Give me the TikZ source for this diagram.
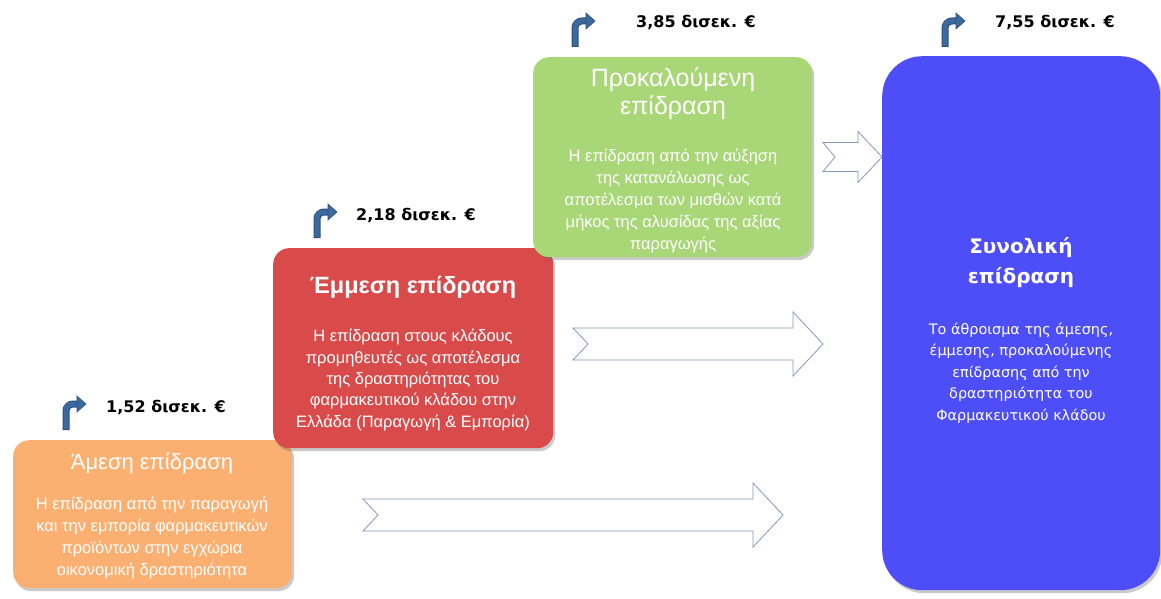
\documentclass[tikz,border=0pt]{standalone}
\usepackage{fontspec}
\setmainfont{Liberation Sans}
\newfontfamily\verd{DejaVu Sans}
\usetikzlibrary{shadows}
\definecolor{orangebox}{HTML}{FBB072}
\definecolor{redbox}{HTML}{D94B4B}
\definecolor{greenbox}{HTML}{A9D677}
\definecolor{bluebox}{HTML}{4E4EF8}
\definecolor{iconblue}{HTML}{3D6A9E}
\definecolor{iconedge}{HTML}{2C4F7C}
\definecolor{arrowedge}{HTML}{8498BA}
\tikzset{
  box/.style={rounded corners=16pt, draw=none, drop shadow={shadow xshift=2pt, shadow yshift=-3pt, opacity=0.35, fill=black!60}},
  ttl/.style={text=white, align=center, inner sep=0pt, font=\fontsize{22}{28}\selectfont},
  bdy/.style={text=white, align=center, inner sep=0pt, font=\fontsize{16.5}{22}\selectfont},
  val/.style={anchor=west, inner sep=0pt, font=\verd\bfseries\fontsize{16}{18}\selectfont, text=black},
  blockarrow/.style={draw=arrowedge, fill=white, line width=0.8pt, line join=miter},
}
% #1 tail x, #2 tip x, #3 center y, #4 shaft half, #5 head half, #6 head length, #7 notch
\newcommand\myblockarrow[7]{%
  \draw[blockarrow] (#1,#3-#4) -- (#2-#6,#3-#4) -- (#2-#6,#3-#5) -- (#2,#3) -- (#2-#6,#3+#5) -- (#2-#6,#3+#4) -- (#1,#3+#4) -- (#1+#7,#3) -- cycle;}
% #1 stem x, #2 stem bottom y
\newcommand\turnicon[2]{%
  \draw[iconedge, line width=7pt, rounded corners=7pt] (#1,#2) -- (#1,#2-26) -- (#1+12,#2-26);
  \draw[iconblue, line width=5pt, rounded corners=6pt] (#1,#2-0.8) -- (#1,#2-26) -- (#1+12.5,#2-26);
  \fill[iconblue, draw=iconedge, line width=0.6pt] (#1+11,#2-34) -- (#1+20,#2-26) -- (#1+11,#2-18) -- cycle;}
\begin{document}
\begin{tikzpicture}[x=1pt, y=-1pt]
\useasboundingbox (0,0) rectangle (1161,599);
% boxes
\node[box, fill=orangebox, minimum width=279pt, minimum height=148pt, anchor=north west] (amesi) at (13,440) {};
\node[box, fill=redbox, minimum width=280pt, minimum height=200pt, anchor=north west] (emmesi) at (273,248) {};
\node[box, fill=greenbox, minimum width=279pt, minimum height=200pt, anchor=north west] (prok) at (533,57) {};
\node[box, rounded corners=40pt, fill=bluebox, minimum width=278pt, minimum height=534pt, anchor=north west] (synol) at (882,56) {};
% texts
\node[ttl] (t1) at (152,463) {Άμεση επίδραση};
\node[bdy] (b1) at (152,538) {Η επίδραση από την παραγωγή\\και την εμπορία φαρμακευτικών\\προϊόντων στην εγχώρια\\οικονομική δραστηριότητα};
\node[ttl, font=\bfseries\fontsize{23.5}{28}\selectfont] (t2) at (413,287) {Έμμεση επίδραση};
\node[bdy, font=\fontsize{16.5}{21.3}\selectfont] (b2) at (413,380) {Η επίδραση στους κλάδους\\προμηθευτές ως αποτέλεσμα\\της δραστηριότητας του\\φαρμακευτικού κλάδου στην\\Ελλάδα (Παραγωγή \& Εμπορία)};
\node[ttl, font=\fontsize{25}{28}\selectfont] (t3) at (673,94) {Προκαλούμενη\\επίδραση};
\node[bdy] (b3) at (673,201) {Η επίδραση από την αύξηση\\της κατανάλωσης ως\\αποτέλεσμα των μισθών κατά\\μήκος της αλυσίδας της αξίας\\παραγωγής};
\node[ttl, font=\verd\bfseries\fontsize{20}{30}\selectfont] (t4) at (1021,263) {Συνολική\\επίδραση};
\node[bdy, font=\verd\fontsize{14.4}{21.5}\selectfont] (b4) at (1021,373) {Το άθροισμα της άμεσης,\\έμμεσης, προκαλούμενης\\επίδρασης από την\\δραστηριότητα του\\Φαρμακευτικού κλάδου};
% values
\node[val] (v1) at (106,407) {1,52 δισεκ. €};
\node[val] (v2) at (356,215) {2,18 δισεκ. €};
\node[val] (v3) at (636,22) {3,85 δισεκ. €};
\node[val] (v4) at (995,22) {7,55 δισεκ. €};
% icons
\turnicon{66}{430}
\turnicon{317}{238}
\turnicon{575}{47}
\turnicon{945}{47}
% block arrows
\myblockarrow{363}{783}{515}{16}{32}{30}{15}
\myblockarrow{573}{823}{344}{16}{32}{30}{15}
\myblockarrow{823}{882}{157}{14.5}{25.5}{24}{12}
\end{tikzpicture}
\end{document}
